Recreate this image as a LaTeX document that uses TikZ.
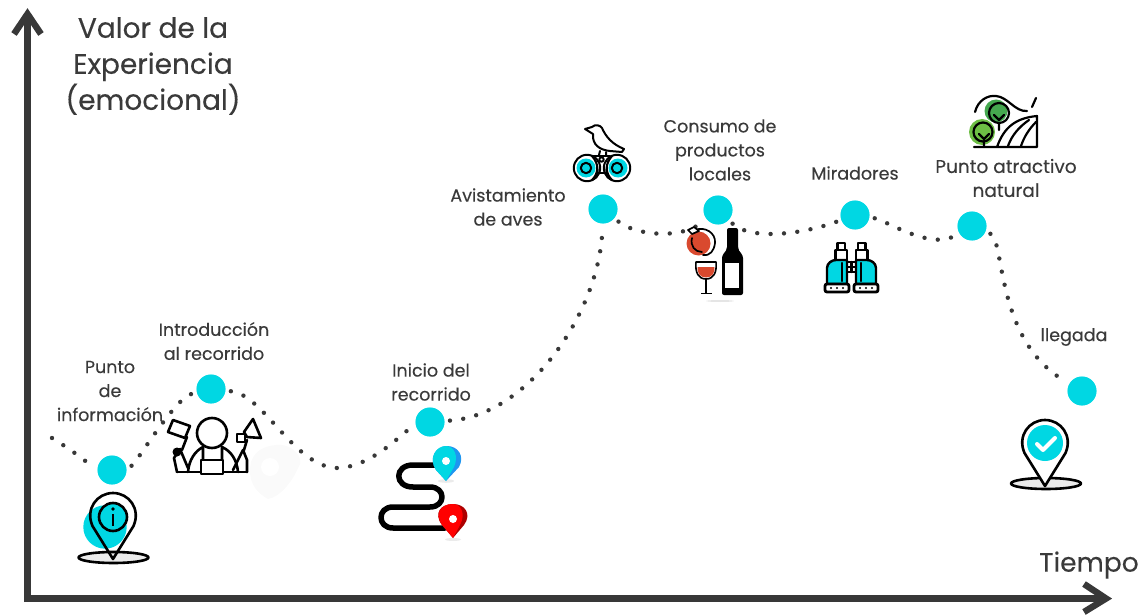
\documentclass[tikz,border=0pt]{standalone}
\usepackage{fontspec}
\setmainfont{Poppins}[FakeBold=0.25]
\definecolor{cy}{HTML}{00D7E3}
\definecolor{ink}{HTML}{383838}
\definecolor{txt}{HTML}{3A3A3A}
\definecolor{wine}{HTML}{D9492E}
\definecolor{leafa}{HTML}{6DBE45}
\definecolor{leafb}{HTML}{45A84F}
\definecolor{pinblue}{HTML}{1E96F0}
\tikzset{
 stopdot/.style={circle,fill=cy,draw=none,minimum size=29pt,inner sep=0pt},
 dotline/.style={ink,line width=4.4pt,line cap=round,dash pattern=on 0pt off 13.4pt,shorten >=20pt,shorten <=20pt},
 lab/.style={align=center,text=txt,font=\fontsize{17.5}{24}\selectfont,inner sep=0pt},
 big/.style={align=center,text=txt,font=\fontsize{28}{36}\selectfont,inner sep=0pt},
 axis/.style={ink,line width=6.5pt,line cap=butt,line join=miter},
 icon/.style={black,line width=2.6pt,line join=round,line cap=round},
}
\newcommand{\pinoutline}{(0,0) -- (-20.5,-33) .. controls (-28,-50) and (-16,-66) .. (0,-66) .. controls (16,-66) and (28,-50) .. (20.5,-33) -- cycle}
\begin{document}
\begin{tikzpicture}[x=1pt,y=-1pt]
\useasboundingbox (0,0) rectangle (1143,615);
% stops
\node[stopdot] (n1) at (112,470) {};
\node[stopdot] (n2) at (211,389) {};
\node[stopdot] (n3) at (430,422) {};
\node[stopdot] (n4) at (603,209) {};
\node[stopdot] (n5) at (718,210) {};
\node[stopdot] (n6) at (855,215) {};
\node[stopdot] (n7) at (972,226) {};
\node[stopdot] (n8) at (1082,391) {};
\coordinate (s0) at (52,438);
\coordinate (xa0) at (24,598.5);
\coordinate (xa1) at (1106,598.5);
\coordinate (ya0) at (27.5,602);
\coordinate (ya1) at (27.5,14);
% dots
\draw[dotline,shorten <=0pt] (s0) .. controls (75,452) and (95,468) .. (n1.center);
\draw[dotline] (n1.center) .. controls (135,465) and (175,398) .. (n2.center);
\draw[dotline] (n2.center) .. controls (265,395) and (295,470) .. (340,468) .. controls (375,465) and (405,430) .. (n3.center);
\draw[dotline] (n3.center) .. controls (530,415) and (600,310) .. (n4.center);
\draw[dotline] (n4.center) .. controls (635,235) and (680,240) .. (n5.center);
\draw[dotline] (n5.center) .. controls (750,240) and (800,235) .. (n6.center);
\draw[dotline] (n6.center) .. controls (885,220) and (930,250) .. (n7.center);
\draw[dotline] (n7.center) .. controls (1005,240) and (995,340) .. (n8.center);
% discs above dots
\foreach \p/\q in {112/470,211/389,430/422,603/209,718/210,855/215,972/226,1082/391}
  \fill[cy] (\p,\q) circle (14.3);
% axes
\draw[axis] (xa0) -- (1104,598.5);
\draw[axis] (ya0) -- (27.5,16);
\draw[axis] (1084,584) -- (xa1) -- (1084,612);
\draw[axis] (14,34) -- (ya1) -- (41,34);
% titles
\node[big] (t1) at (153,66) {Valor de la\\Experiencia\\(emocional)};
\node[big,font=\fontsize{26.5}{30}\selectfont] (t2) at (1089,565) {Tiempo};
% labels
\node[lab] (l1) at (110,391) {Punto\\de\\información};
\node[lab] (l2) at (214,341) {Introducción\\al recorrido};
\node[lab] (l3) at (431,382) {Inicio del\\recorrido};
\node[lab] (l4) at (508,207) {Avistamiento\\de aves};
\node[lab] (l5) at (720,150) {Consumo de\\productos\\locales};
\node[lab] (l6) at (855,173) {Miradores};
\node[lab,font=\fontsize{18.5}{24}\selectfont] (l7) at (1006,178) {Punto atractivo\\natural};
\node[lab] (l8) at (1074,337) {llegada};
% --- info pin
\filldraw[icon,fill=black!8] (113.5,557.5) ellipse (35 and 5.5);
\fill[cy] (105,527) circle (21.7);
\begin{scope}[shift={(113,559)}]
\draw[icon] \pinoutline;
\end{scope}
\filldraw[icon,fill=cy] (113,517) circle (14);
\fill[black] (113,509) circle (1.8);
\draw[black,line width=2.8pt] (113,514) -- (113,526);
% --- guide icon
\begin{scope}[icon]
\draw (212,433) circle (15);
\draw (177,472) -- (247,472);
\draw (188,472) .. controls (189,460) and (195,451) .. (203,447) -- (203,460);
\draw (238,472) .. controls (237,460) and (231,451) .. (222,447) -- (222,460);
\draw[fill=white] (201,460) rectangle (223,474);
\draw (177,472) -- (174,458) -- (180,449) -- (188,468);
\draw (233,470) -- (243,450) -- (247,460) -- (247,472);
\draw (182,450) -- (187,437);
\draw (173,420) -- (190,426) -- (185,438) -- (168,432) -- cycle;
\draw (244,450) -- (247,440);
\draw (244,432) -- (253,419) -- (261,438) -- (247,437) -- cycle;
\draw (237,434) rectangle (245,442);
\end{scope}
\fill[black] (177,452) circle (4.5);
% --- faint grey pin
\fill[black!2] (276,445) .. controls (292,443) and (306,458) .. (298,468) .. controls (292,482) and (280,497) .. (268,499) .. controls (255,492) and (247,480) .. (251,462) .. controls (255,450) and (265,446) .. (276,445) -- cycle;
\fill[white] (270,467) circle (9);
% --- route icon
\draw[black,line width=5.5pt,line cap=round,line join=round] (435,465) -- (413,465) .. controls (394,465) and (394,487) .. (413,487) -- (430,487) .. controls (446,487) and (446,507) .. (430,507) -- (393,507) .. controls (377,507) and (377,528) .. (393,528) -- (445,528);
\fill[black!8] (446,481) ellipse (8 and 1.8);
\fill[black!8] (453,539.5) ellipse (8 and 1.5);
\fill[pinblue] (446,481) -- (436,470) .. controls (428,458) and (436,446) .. (447,446) .. controls (458,446) and (465,456) .. (459,467) -- cycle;
\fill[cy] (446,481) -- (436,470) .. controls (428,458) and (436,446) .. (446,446) .. controls (454,446) and (459,456) .. (454,467) -- cycle;
\fill[white] (446,461) circle (4);
\fill[red!68!black] (453,538) -- (442,525) .. controls (433,513) and (441,504) .. (453,504) .. controls (465,504) and (472,514) .. (464,525) -- cycle;
\fill[red] (453,538) -- (442,525) .. controls (434,513) and (441,504) .. (453,504) .. controls (461,504) and (466,514) .. (460,525) -- cycle;
\fill[white] (453,519) circle (4);
% --- check pin
\filldraw[icon,fill=black!8] (1046,483.5) ellipse (35 and 5.5);
\begin{scope}[shift={(1045,486)}]
\filldraw[icon,fill=white] \pinoutline;
\end{scope}
\fill[cy] (1045,443) circle (18);
\draw[white,line width=4pt,line cap=round,line join=round] (1037,444) -- (1043,450) -- (1055,438);
% --- bird binoculars
\begin{scope}[icon,line width=2pt]
\filldraw[fill=white] (585,129) -- (592,127) .. controls (595,124) and (600,125) .. (602,128) .. controls (606,137) and (612,144) .. (624,149) -- (622,152) -- (610,151) .. controls (600,150) and (592,145) .. (593,134) -- cycle;
\draw (600,151) -- (599,155) (606,152) -- (606,155);
\draw (593,156) -- (610,156);
\draw[fill=white] (587,168) circle (13.2);
\draw[fill=white] (617,168) circle (13.2);
\end{scope}
\fill[cy] (586,168) circle (9.5);
\fill[cy] (618,168) circle (9.5);
\begin{scope}[icon,line width=2pt]
\filldraw[fill=cy] (586,168) circle (5.2);
\filldraw[fill=cy] (617,168) circle (5.2);
\draw[fill=white] (592,156) .. controls (599,163) and (599,173) .. (592,180) .. controls (599,178) and (600,165) .. (592,156);
\draw[fill=white] (612,156) .. controls (605,163) and (605,173) .. (612,180) .. controls (605,178) and (604,165) .. (612,156);
\draw (598,173) -- (606,173);
\draw (601.5,159.5) circle (2.2);
\end{scope}
% --- apple, glass, bottle
\fill[wine] (698.5,243.5) circle (12);
\begin{scope}[icon,line width=1.7pt]
\draw (695,230) .. controls (705,226) and (716,233) .. (715,243) .. controls (714,251) and (710,256) .. (703,255);
\draw (692,238) .. controls (690,246) and (695,252) .. (702,252);
\draw[fill=white] (688,230) -- (694,227) -- (699,231) -- (692,234) -- cycle;
\end{scope}
\fill[black,rounded corners=2pt] (727,228) rectangle (738,250);
\fill[black,rounded corners=2pt] (727,245) -- (738,245) -- (738,249) .. controls (740,252) and (743,255) .. (743,260) -- (743,295) -- (722,295) -- (722,260) .. controls (722,255) and (725,252) .. (727,249) -- cycle;
\fill[white] (725,263) rectangle (739,288);
\draw[icon,line width=1.6pt] (696,262) -- (716,262) .. controls (717,272) and (714,279) .. (706,279) .. controls (698,279) and (695,272) .. (696,262) -- cycle;
\fill[wine] (697.5,267) -- (714.5,267) .. controls (715,273) and (712,277.5) .. (706,277.5) .. controls (700,277.5) and (697,273) .. (697.5,267) -- cycle;
\draw[black,line width=1.8pt] (706,279) -- (706,293) (701,293.5) -- (712,293.5);
\fill[black!10] (720,301) ellipse (14 and 1);
% --- binoculars
\begin{scope}[icon,line width=2.4pt]
\filldraw[fill=white] (837.5,243) rectangle (845,250);
\filldraw[fill=white] (858,243) rectangle (865.5,250);
\filldraw[fill=white] (835.5,250) rectangle (847,261);
\filldraw[fill=white] (856,250) rectangle (867.5,261);
\filldraw[fill=cy] (827,284) -- (827,268) .. controls (827,263) and (832,260) .. (836,260) -- (847,260) -- (847,284) -- cycle;
\filldraw[fill=cy] (876,284) -- (876,268) .. controls (876,263) and (871,260) .. (867,260) -- (856,260) -- (856,284) -- cycle;
\draw (842,263) -- (842,281) (861,263) -- (861,281);
\draw (847,262) rectangle (856,272);
\draw (847,267) -- (856,267) (851.5,262) -- (851.5,272);
\end{scope}
\foreach \x in {825,854}{
 \filldraw[black,fill=white,line width=2.8pt,rounded corners=2pt] (\x,284) rectangle ++(24,8);
 \foreach \d in {6,12,18} \fill[black] (\x+\d,288) circle (1.2);
}
% --- landscape
\fill[leafb] (996,111) circle (11.5);
\fill[leafa] (982,132) circle (13);
\begin{scope}[icon,line width=2.2pt]
\draw (975,112) .. controls (978,100) and (988,95) .. (996,96) .. controls (1008,97) and (1015,112) .. (1027,111);
\draw (1032,107) -- (1036,98);
\draw (999,113) circle (10) (983,132) circle (9.5);
\draw (999,123) -- (999,130) (994,115)--(999,120)--(1004,115);
\draw (984,147) -- (984,141) (979,134)--(984,139)--(989,134);
\draw (974,147) -- (1037,147) -- (1037,116) .. controls (1016,118) and (1004,127) .. (997,147);
\draw (1008,146) .. controls (1012,135) and (1019,127) .. (1029,120);
\draw (1021,146) .. controls (1024,137) and (1029,129) .. (1036,122);
\end{scope}
\end{tikzpicture}
\end{document}
